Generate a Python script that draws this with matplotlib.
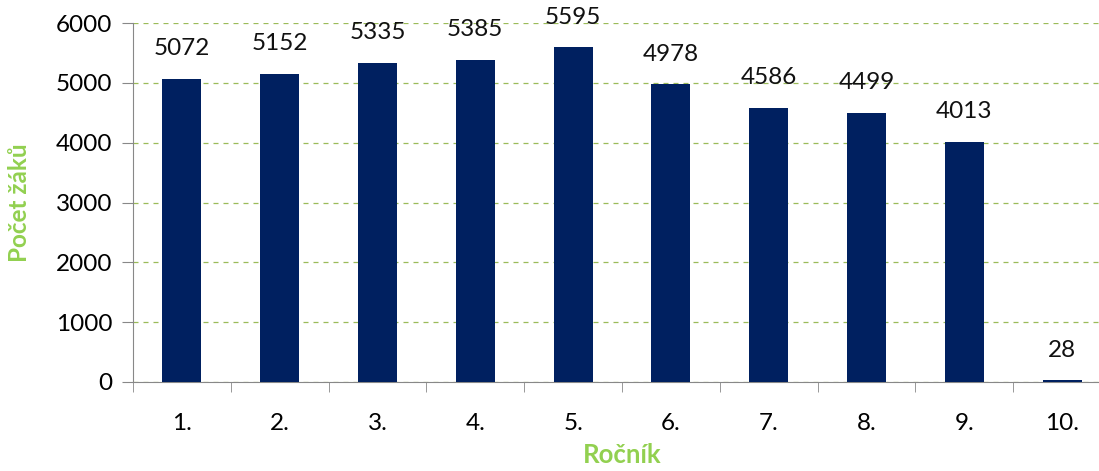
import numpy as np
import matplotlib.pyplot as plt

# data
rocniky = ['1.', '2.', '3.', '4.', '5.', '6.', '7.', '8.', '9.', '10.']
pocty = [5072, 5152, 5335, 5385, 5595, 4978, 4586, 4499, 4013, 28]

plt.rcParams['font.family'] = ['Lato', 'DejaVu Sans']

fig = plt.figure(figsize=(10.99, 4.71), dpi=100)
ax = fig.add_axes([133/1099, 1 - 382/471, (1111 - 133)/1099, (382 - 23)/471])

x = np.arange(len(rocniky))
bars = ax.bar(x, pocty, width=0.4, color='#002060', zorder=3)

for xi, v in zip(x, pocty):
    ax.text(xi, v + 500, str(v), ha='center', va='center', fontsize=17.5, color='#111111')

ax.set_xlim(-0.5, len(rocniky) - 0.5)
ax.set_ylim(0, 6000)
ax.set_yticks(range(0, 6001, 1000))
ax.set_xticks(x)
ax.set_xticklabels(rocniky)
ax.set_xticks(np.arange(-0.5, len(rocniky)), minor=True)
ax.tick_params(axis='x', which='major', length=0, pad=22, labelsize=17.5)
ax.tick_params(axis='x', which='minor', length=7, color='#888888')
ax.tick_params(axis='y', length=8, color='#888888', labelsize=17.5, pad=7)

ax.grid(axis='y', linestyle=(0, (4, 4)), color='#9BBB59', linewidth=0.9, zorder=0)

for s in ['top', 'right']:
    ax.spines[s].set_visible(False)
for s in ['left', 'bottom']:
    ax.spines[s].set_color('#888888')

ax.set_ylabel('Počet žáků', color='#92D050', fontsize=17.5, fontweight='bold', labelpad=18)
ax.set_xlabel('Ročník', color='#92D050', fontsize=18.5, fontweight='bold', labelpad=7)

fig.savefig('out.png', dpi=100)
